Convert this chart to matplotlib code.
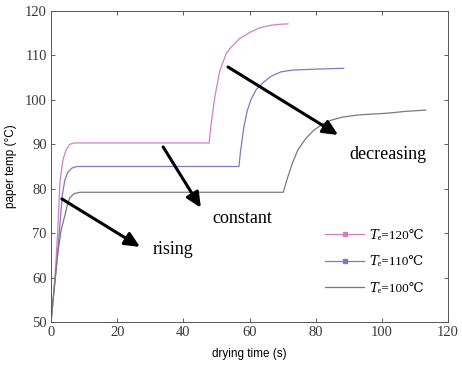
import matplotlib

matplotlib.use("Agg")
import matplotlib.pyplot as plt
from matplotlib.lines import Line2D

# drying curves: time (s), paper temperature (C)
t_120 = [0, 0.6, 1.2, 2.0, 2.7, 3.6, 4.6, 5.7, 7.0, 20, 35, 47.8, 48.3, 49.5, 51, 53, 54.4, 57, 60.4, 63, 66.5, 69, 71.6]
T_120 = [50, 55, 60, 70, 81.5, 86.5, 88.8, 90.0, 90.3, 90.3, 90.3, 90.3, 94, 100.6, 106.5, 110.5, 111.8, 113.8, 115.3, 116.2, 116.8, 117.0, 117.1]

t_110 = [0, 0.8, 1.6, 2.6, 3.4, 4.2, 5.0, 6.2, 7.8, 20, 40, 56.8, 57.3, 58.3, 59.3, 60.4, 62, 64.3, 66.5, 69.5, 73, 79.5, 84, 88.5]
T_110 = [50, 56, 62, 71, 78.5, 82, 83.6, 84.6, 85.0, 85.0, 85.0, 85.0, 88.5, 93.9, 97.5, 100, 102.3, 104, 105.3, 106.3, 106.7, 106.9, 107.0, 107.1]

t_100 = [0, 1.0, 2.0, 3.0, 4.2, 5.0, 5.7, 7.0, 8.8, 30, 50, 70.2, 71.5, 73, 74.6, 77, 79.5, 82, 84.6, 88, 92.8, 97, 101.8, 107, 113.3]
T_100 = [50, 58, 65, 70.5, 74, 76.5, 78, 78.9, 79.2, 79.2, 79.2, 79.2, 82.5, 85.8, 88.7, 91.3, 93.2, 94.5, 95.4, 96.1, 96.6, 96.8, 97.0, 97.4, 97.7]

series_labels = ["𝑇ₑ=120℃", "𝑇ₑ=110℃", "𝑇ₑ=100℃"]

x_ticks = [0, 20, 40, 60, 80, 100, 120]
y_ticks = [50, 60, 70, 80, 90, 100, 110, 120]

# annotation arrows: (text, text position, arrow tail, arrow head)
phase_names = ["rising", "constant", "decreasing"]
phase_text_xy = [(36.9, 66.4), (57.7, 73.4), (101.9, 87.6)]
arrow_tail = [(3.3, 77.7), (33.9, 89.4), (53.5, 107.4)]
arrow_head = [(26.9, 66.9), (45.3, 75.7), (86.8, 92.1)]

serif = ["Liberation Serif", "DejaVu Serif", "STIXGeneral", "Noto Sans CJK SC"]
sans = ["Liberation Sans", "DejaVu Sans", "Noto Sans CJK SC"]

colors = ["#d47fc0", "#7a7ac8", "#7a7a7a"]

fig = plt.figure(figsize=(4.62, 3.65), dpi=100)
ax = fig.add_axes([51 / 462, 1 - 322 / 365, 397 / 462, 311 / 365])

ax.plot(t_120, T_120, color=colors[0], lw=0.9)
ax.plot(t_110, T_110, color=colors[1], lw=0.9)
ax.plot(t_100, T_100, color=colors[2], lw=0.9)

for name, txy, tail, head in zip(phase_names, phase_text_xy, arrow_tail, arrow_head):
    ax.annotate("", xy=head, xytext=tail,
                arrowprops=dict(arrowstyle="-|>,head_length=0.9,head_width=0.42",
                                color="black", lw=2.2, shrinkA=0, shrinkB=0))
    ax.text(txy[0], txy[1], name, ha="center", va="center", fontsize=13,
            family=serif)

ax.set_xlim(0, 120)
ax.set_ylim(50, 120)
ax.set_xticks(x_ticks)
ax.set_yticks(y_ticks)
ax.tick_params(direction="in", length=3, width=0.6, top=True, right=True,
               labelsize=10.5, labelcolor="#3a3a3a", color="#444444", pad=3)
for lab in ax.get_xticklabels() + ax.get_yticklabels():
    lab.set_family(serif)
for sp in ax.spines.values():
    sp.set_linewidth(0.7)
    sp.set_color("#555555")

ax.set_xlabel("drying time (s)", fontsize=8.5, family=sans, labelpad=6)
ax.set_ylabel("paper temp (°C)", fontsize=8.5, family=sans, labelpad=6)

handles = [
    Line2D([], [], color=colors[0], lw=0.9, marker="s", ms=2.5),
    Line2D([], [], color=colors[1], lw=0.9, marker="s", ms=2.5),
    Line2D([], [], color=colors[2], lw=0.9),
]
ax.legend(handles, series_labels, loc="upper left", bbox_to_anchor=(0.66, 0.336),
          frameon=False, handlelength=3.0, handletextpad=0.4,
          labelspacing=1.1, numpoints=1,
          prop={"family": serif, "size": 9.5})

fig.savefig("out.png", dpi=100)
